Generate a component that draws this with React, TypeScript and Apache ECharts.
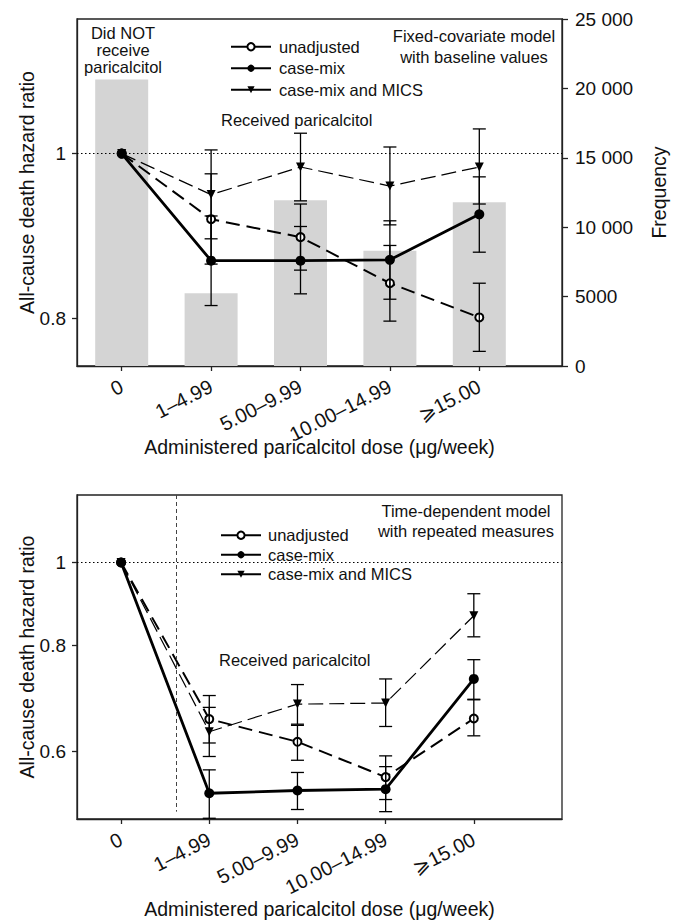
import React, { useEffect, useRef } from 'react';
import * as echarts from 'echarts';

// ---------- data ----------
const categories = ['0', '1–4.99', '5.00–9.99', '10.00–14.99', '⩾15.00'];
const frequency = [20650, 5250, 11950, 8300, 11800];

// Fixed-covariate model (top)
const unadjFixed = [1, 0.915, 0.893, 0.839, 0.801];
const unadjFixedLow = [1, 0.861, 0.854, 0.797, 0.765];
const unadjFixedHigh = [1, 0.973, 0.934, 0.883, 0.839];
const caseMixFixed = [1, 0.865, 0.865, 0.866, 0.921];
const caseMixFixedLow = [1, 0.814, 0.827, 0.821, 0.875];
const caseMixFixedHigh = [1, 0.919, 0.906, 0.913, 0.969];
const micsFixed = [1, 0.946, 0.982, 0.957, 0.982];
const micsFixedLow = [1, 0.891, 0.938, 0.908, 0.934];
const micsFixedHigh = [1, 1.005, 1.028, 1.009, 1.034];

// Time-dependent model (bottom)
const unadjTD = [1, 0.655, 0.616, 0.56, 0.656];
const unadjTDLow = [1, 0.614, 0.586, 0.527, 0.626];
const unadjTDHigh = [1, 0.698, 0.644, 0.593, 0.69];
const caseMixTD = [1, 0.536, 0.54, 0.542, 0.73];
const caseMixTDLow = [1, 0.501, 0.513, 0.51, 0.691];
const caseMixTDHigh = [1, 0.571, 0.567, 0.576, 0.769];
const micsTD = [1, 0.633, 0.682, 0.684, 0.866];
const micsTDLow = [1, 0.592, 0.646, 0.642, 0.818];
const micsTDHigh = [1, 0.676, 0.719, 0.73, 0.919];

const hrTicksTop = [0.8, 1];
const hrTicksBottom = [0.6, 0.8, 1];
const catTicks = [0, 1, 2, 3, 4];
const dividerX = 0.63;

const seriesNames = ['unadjusted', 'case-mix', 'case-mix and MICS'];

const FONT = "'Liberation Sans', Arial, Helvetica, sans-serif";
const INK = '#111';

function pts(vals: number[]) {
  return vals.map((v, i) => [i, v]);
}
function ci(low: number[], high: number[]) {
  return low.map((l, i) => [i, l, high[i]]).filter((d) => d[1] !== d[2]);
}

const errorRender = (params: any, api: any) => {
  const x = api.value(0);
  const lo = api.coord([x, api.value(1)]);
  const hi = api.coord([x, api.value(2)]);
  const hw = 6.5;
  const st = { stroke: '#000', lineWidth: 1.3 };
  return {
    type: 'group',
    children: [
      { type: 'line', shape: { x1: lo[0], y1: lo[1], x2: hi[0], y2: hi[1] }, style: st },
      { type: 'line', shape: { x1: lo[0] - hw, y1: lo[1], x2: lo[0] + hw, y2: lo[1] }, style: st },
      { type: 'line', shape: { x1: hi[0] - hw, y1: hi[1], x2: hi[0] + hw, y2: hi[1] }, style: st },
    ],
  };
};

function lineSeries(grid: number, yIdx: number, u: number[], c: number[], m: number[], extraMark: any[]) {
  return [
    {
      type: 'line',
      name: seriesNames[0],
      xAxisIndex: grid,
      yAxisIndex: yIdx,
      data: pts(u),
      symbol: 'emptyCircle',
      symbolSize: 8,
      z: 4,
      lineStyle: { color: '#000', width: 2, type: [14, 7] },
      itemStyle: { color: '#000', borderWidth: 1.2 },
    },
    {
      type: 'line',
      name: seriesNames[1],
      xAxisIndex: grid,
      yAxisIndex: yIdx,
      data: pts(c),
      symbol: 'circle',
      symbolSize: 10,
      z: 5,
      lineStyle: { color: '#000', width: 2.8 },
      itemStyle: { color: '#000' },
      markLine: {
        silent: true,
        symbol: 'none',
        label: { show: false },
        lineStyle: { color: '#000', type: [1.5, 2.5], width: 1.2 },
        data: [{ yAxis: 1 }],
      },
    },
    {
      type: 'line',
      name: seriesNames[2],
      xAxisIndex: grid,
      yAxisIndex: yIdx,
      data: pts(m),
      symbol: 'triangle',
      symbolRotate: 180,
      symbolSize: 9,
      z: 4,
      lineStyle: { color: '#000', width: 1.2, type: [15, 6] },
      itemStyle: { color: '#000' },
      markLine: extraMark.length
        ? {
            silent: true,
            symbol: 'none',
            label: { show: false },
            lineStyle: { color: '#444', type: [4, 3], width: 1 },
            data: extraMark,
          }
        : undefined,
    },
  ];
}

function errSeries(grid: number, yIdx: number, sets: number[][][]) {
  return sets.map((d) => ({
    type: 'custom',
    xAxisIndex: grid,
    yAxisIndex: yIdx,
    renderItem: errorRender,
    encode: { x: 0, y: [1, 2] },
    data: d,
    z: 6,
    silent: true,
  }));
}

function xAxis(grid: number, max: number, nameGap: number, margin: number) {
  return {
    type: 'value',
    gridIndex: grid,
    min: -0.5,
    max,
    name: 'Administered paricalcitol dose (μg/week)',
    nameLocation: 'middle',
    nameGap,
    nameMoveOverlap: false,
    nameTextStyle: { fontSize: 19.5, fontFamily: FONT, color: INK },
    axisLine: { show: true, onZero: false, lineStyle: { color: '#222', width: 1.3 } },
    axisTick: { show: true, length: 5, customValues: catTicks, lineStyle: { color: '#222', width: 1.3 } },
    axisLabel: {
      customValues: catTicks,
      rotate: 27,
      margin,
      fontSize: 20,
      fontFamily: FONT,
      color: INK,
      formatter: (v: number) => categories[Math.round(v)] ?? '',
    },
    splitLine: { show: false },
  };
}

function hrAxis(grid: number, min: number, max: number, ticks: number[]) {
  return {
    type: 'log',
    gridIndex: grid,
    min,
    max,
    position: 'left',
    name: 'All-cause death hazard ratio',
    nameLocation: 'middle',
    nameRotate: 90,
    nameGap: 40,
    nameMoveOverlap: false,
    nameTextStyle: { fontSize: 19.5, fontFamily: FONT, color: INK },
    axisLine: { show: true, onZero: false, lineStyle: { color: '#222', width: 1.3 } },
    axisTick: { show: true, length: 5, customValues: ticks, lineStyle: { color: '#222', width: 1.3 } },
    axisLabel: {
      customValues: ticks,
      margin: 11,
      fontSize: 19,
      fontFamily: FONT,
      color: INK,
      formatter: (v: number) => String(Math.round(v * 100) / 100),
    },
    splitLine: { show: false },
  };
}

function legend(left: number, top: number, lh: number, textPad: number) {
  return {
    data: seriesNames,
    orient: 'vertical',
    left,
    top,
    padding: 0,
    itemGap: 0,
    itemWidth: 40,
    itemHeight: 9,
    selectedMode: false,
    lineStyle: { type: 'solid' },
    textStyle: { fontSize: 16.5, fontFamily: FONT, color: INK, lineHeight: lh, padding: [0, 0, 0, textPad] },
  };
}

function txt(x: number, y: number, text: string, align: string, lh: number) {
  return {
    type: 'text',
    x,
    y,
    z: 10,
    style: {
      text,
      fontSize: 16.5,
      fontFamily: FONT,
      fill: INK,
      align,
      textAlign: align,
      verticalAlign: 'top',
      textVerticalAlign: 'top',
      lineHeight: lh,
    },
  };
}

export default function App() {
  const ref = useRef<HTMLDivElement>(null);
  useEffect(() => {
    document.body.style.margin = '0';
    const chart = echarts.init(ref.current!, null, { renderer: 'svg' });
    const option: any = {
      animation: false,
      backgroundColor: '#fff',
      textStyle: { fontFamily: FONT },
      grid: [
        { left: 77, top: 19, width: 485, height: 347, show: true, borderColor: '#222', borderWidth: 1.3, backgroundColor: 'transparent' },
        { left: 77, top: 495, width: 485, height: 325, show: true, borderColor: '#222', borderWidth: 1.3, backgroundColor: 'transparent' },
      ],
      legend: [legend(230, 36, 21.5, 3), legend(220, 525.5, 19.5, 2)],
      xAxis: [xAxis(0, 4.925, 71, 19), xAxis(1, 5, 80, 19)],
      yAxis: [
        hrAxis(0, 0.75, 1.2, hrTicksTop),
        {
          type: 'value',
          gridIndex: 0,
          position: 'right',
          min: 0,
          max: 25000,
          interval: 5000,
          name: 'Frequency',
          nameLocation: 'middle',
          nameRotate: 90,
          nameGap: 87,
          nameMoveOverlap: false,
          nameTextStyle: { fontSize: 19.5, fontFamily: FONT, color: INK },
          axisLine: { show: true, onZero: false, lineStyle: { color: '#222', width: 1.3 } },
          axisTick: { show: true, length: 6, lineStyle: { color: '#222', width: 1.3 } },
          axisLabel: {
            margin: 13,
            fontSize: 19,
            fontFamily: FONT,
            color: INK,
            formatter: (v: number) => (v >= 10000 ? `${Math.floor(v / 1000)} ${String(v % 1000).padStart(3, '0')}` : String(v)),
          },
          splitLine: { show: false },
        },
        hrAxis(1, 0.5, 1.2, hrTicksBottom),
      ],
      series: [
        {
          type: 'bar',
          xAxisIndex: 0,
          yAxisIndex: 1,
          data: pts(frequency),
          barWidth: 53,
          z: 1,
          itemStyle: { color: '#d4d4d4' },
          silent: true,
        },
        ...lineSeries(0, 0, unadjFixed, caseMixFixed, micsFixed, []),
        ...errSeries(0, 0, [
          ci(unadjFixedLow, unadjFixedHigh),
          ci(caseMixFixedLow, caseMixFixedHigh),
          ci(micsFixedLow, micsFixedHigh),
        ]),
        ...lineSeries(1, 2, unadjTD, caseMixTD, micsTD, [[{ coord: [dividerX, 1.2] }, { coord: [dividerX, 0.51] }]]),
        ...errSeries(1, 2, [
          ci(unadjTDLow, unadjTDHigh),
          ci(caseMixTDLow, caseMixTDHigh),
          ci(micsTDLow, micsTDHigh),
        ]),
      ],
      graphic: [
        txt(123, 24.5, 'Did NOT\nreceive\nparicalcitol', 'center', 17),
        txt(474, 25.5, 'Fixed-covariate model\nwith baseline values', 'center', 21),
        txt(221, 110, 'Received paricalcitol', 'left', 20),
        txt(466, 500.5, 'Time-dependent model\nwith repeated measures', 'center', 20.5),
        txt(219, 649.5, 'Received paricalcitol', 'left', 20),
      ],
    };
    chart.setOption(option);
    return () => chart.dispose();
  }, []);
  return <div ref={ref} style={{ width: 678, height: 920, position: 'absolute', left: 0, top: 0 }} />;
}
